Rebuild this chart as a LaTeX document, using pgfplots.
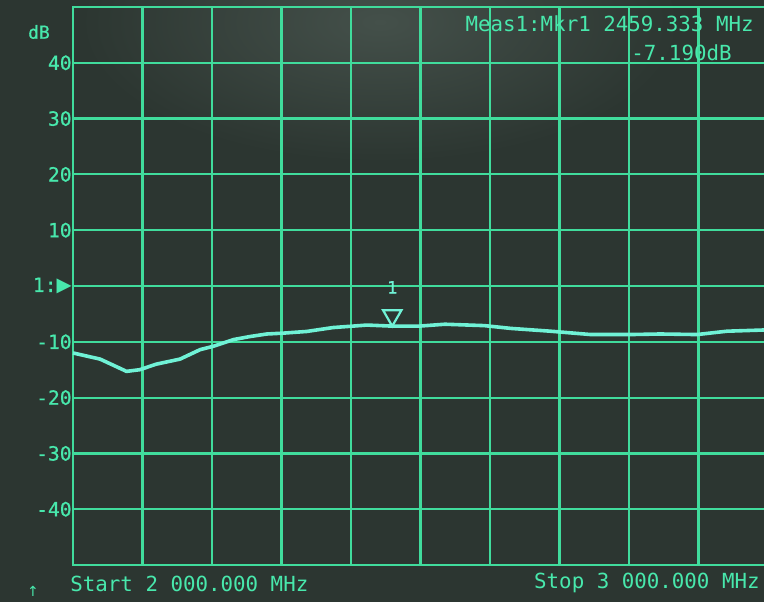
\documentclass[border=0pt]{standalone}
\usepackage{pgfplots}
\pgfplotsset{compat=1.18}
\usepackage{fontspec}
\setmainfont{DejaVu Sans Mono}
\newfontfamily\boldscr[FakeBold=0.7]{DejaVu Sans Mono}
\newfontfamily\symfont{DejaVu Sans}

\definecolor{scr}{RGB}{44,54,49}
\definecolor{glare}{RGB}{68,80,74}
\definecolor{grd}{RGB}{64,220,156}
\definecolor{trc}{RGB}{112,242,214}
\definecolor{txt}{RGB}{72,232,172}

% S21 trace (MHz, dB)
\pgfplotstableread{
f      db
2000  -12.0
2039  -13.1
2077  -15.3
2096  -15.0
2120  -14.0
2154  -13.1
2183  -11.4
2202  -10.8
2231   -9.6
2255   -9.05
2279   -8.6
2302   -8.45
2336   -8.15
2374   -7.45
2423   -7.0
2442   -7.1
2459.333 -7.19
2497   -7.2
2535   -6.85
2592   -7.1
2630   -7.6
2687   -8.1
2745   -8.7
2802   -8.7
2845   -8.6
2898   -8.7
2941   -8.1
2990   -7.9
3000   -7.85
}\trace

\begin{document}
\begin{tikzpicture}
\useasboundingbox (0,0) rectangle (382pt,301pt);
\fill[scr] (0,0) rectangle (382pt,301pt);
\shade[inner color=glare, outer color=scr] (190pt,290pt) ellipse (150pt and 70pt);
\clip (0,0) rectangle (382pt,301pt);
\begin{axis}[
  at={(36.5pt,18.5pt)}, anchor=south west,
  scale only axis, width=347.5pt, height=279pt,
  xmin=2000, xmax=3000, ymin=-50, ymax=50,
  xtick={2000,2100,...,3000}, xticklabels={},
  ytick={-40,-30,...,40},
  yticklabels={-40,-30,-20,-10,{1:{\symfont▶}},10,20,30,40},
  grid=major,
  major grid style={grd, line width=1.1pt},
  axis line style={grd, line width=1.1pt},
  major tick length=0pt,
  tick label style={txt, font=\boldscr\fontsize{9.8}{11}\selectfont},
  yticklabel style={inner xsep=0.5pt},
  /pgf/number format/assume math mode=true,
  clip=false,
]
\addplot[trc, line width=1.8pt, line join=round] table[x=f, y=db] {\trace};
\addplot[only marks, mark=triangle, mark size=5.3pt,
  mark options={trc, line width=1.1pt, yshift=5.3pt, rotate=180},
  nodes near coords={1},
  every node near coord/.style={trc, anchor=base, inner sep=0pt, yshift=11pt,
    font=\boldscr\fontsize{8.5}{9}\selectfont}]
  coordinates {(2459.333,-7.19)};
\end{axis}
\node[txt, font=\boldscr\fontsize{9}{10}\selectfont] at (19.5pt,285pt) {dB};
\node[txt, anchor=base west, inner sep=0pt, font=\fontsize{10.4}{12}\selectfont] at (35pt,5.5pt) {Start 2 000.000 MHz};
\node[txt, anchor=base east, inner sep=0pt, font=\fontsize{10.4}{12}\selectfont] at (380pt,7pt) {Stop 3 000.000 MHz};
\node[txt, anchor=base east, inner sep=0pt, font=\fontsize{10.4}{12}\selectfont] at (377pt,285.5pt) {Meas1:Mkr1 2459.333 MHz};
\node[txt, anchor=base east, inner sep=0pt, font=\fontsize{10.4}{12}\selectfont] at (366pt,271pt) {-7.190dB};
\node[txt, font=\symfont\fontsize{7}{8}\selectfont] at (16.5pt,5.5pt) {↑};
\end{tikzpicture}
\end{document}
